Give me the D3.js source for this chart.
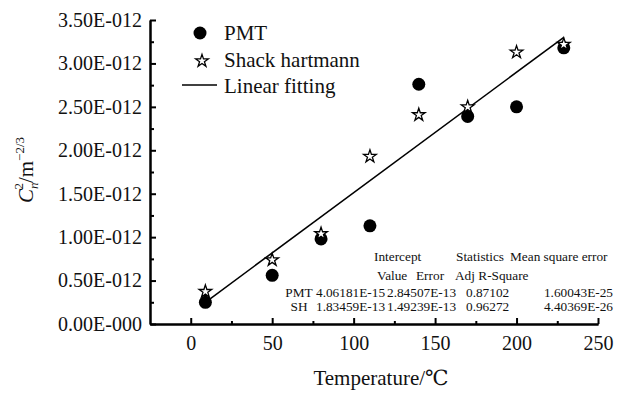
<!DOCTYPE html>
<html>
<head>
<meta charset="utf-8">
<script src="https://cdn.jsdelivr.net/npm/d3@7"></script>
<style>
  html, body { margin: 0; padding: 0; background: #fff; }
  svg text { font-family: "Liberation Serif", "Times New Roman", Times, Tinos, "DejaVu Serif", "Noto Serif", serif; }
</style>
</head>
<body>
<svg id="chart" width="629" height="394"></svg>
<script>
// Temperature (°C) of each measurement
const temperatures = [9, 50, 80, 110, 140, 170, 200, 229];
// Cn² values (m^-2/3) from the two instruments
const pmtValues = [0.25e-12, 0.56e-12, 0.98e-12, 1.13e-12, 2.76e-12, 2.39e-12, 2.50e-12, 3.18e-12];
const shackValues = [0.385e-12, 0.75e-12, 1.05e-12, 1.94e-12, 2.42e-12, 2.51e-12, 3.14e-12, 3.23e-12];
// Linear fit endpoints
const fitTemps = [9, 229];
const fitValues = [0.25e-12, 3.30e-12];

const xTicks = [0, 50, 100, 150, 200, 250];
const yTicks = [0, 0.5e-12, 1.0e-12, 1.5e-12, 2.0e-12, 2.5e-12, 3.0e-12, 3.5e-12];

const legendLabels = ["PMT", "Shack hartmann", "Linear fitting"];

// Fit statistics table
const statsHeader1 = ["Intercept", "Statistics", "Mean square error"];
const statsHeader2 = ["Value", "Error", "Adj R-Square"];
const statsRowNames = ["PMT", "SH"];
const statsValue = ["4.06181E-15", "1.83459E-13"];
const statsError = ["2.84507E-13", "1.49239E-13"];
const statsAdjR2 = ["0.87102", "0.96272"];
const statsMSE = ["1.60043E-25", "4.40369E-26"];

const svg = d3.select("#chart");

const x = d3.scaleLinear().domain([-25, 250]).range([150, 598]);
const y = d3.scaleLinear().domain([0, 3.5e-12]).range([324, 20]);

const fmtY = v => v === 0 ? "0.00E-000" : (v / 1e-12).toFixed(2) + "E-012";

// Minor ticks (no labels)
const xMinor = d3.range(-25, 250, 25).filter(v => !xTicks.includes(v) && v > -25);
const yMinor = d3.range(0.25e-12, 3.5e-12, 0.5e-12);

const axisStyle = g => {
  g.attr("font-family", null);
  g.select(".domain").attr("stroke", "#000").attr("stroke-width", 2);
  g.selectAll(".tick line").attr("stroke", "#000").attr("stroke-width", 2);
  g.selectAll(".tick text").attr("fill", "#111").attr("font-size", 20);
};

svg.append("g")
  .attr("transform", "translate(0,324)")
  .call(d3.axisBottom(x).tickValues(xMinor).tickSize(-3).tickFormat("").tickSizeOuter(0))
  .call(axisStyle);
svg.append("g")
  .attr("transform", "translate(0,324)")
  .call(d3.axisBottom(x).tickValues(xTicks).tickSize(-6).tickPadding(12).tickSizeOuter(0))
  .call(axisStyle);

svg.append("g")
  .attr("transform", "translate(150,0)")
  .call(d3.axisLeft(y).tickValues(yMinor).tickSize(-4).tickFormat("").tickSizeOuter(0))
  .call(axisStyle);
svg.append("g")
  .attr("transform", "translate(150,0)")
  .call(d3.axisLeft(y).tickValues(yTicks).tickSize(-6).tickPadding(8).tickFormat(fmtY).tickSizeOuter(0))
  .call(axisStyle);

// Axis titles
svg.append("text")
  .attr("x", 381).attr("y", 385)
  .attr("text-anchor", "middle")
  .attr("font-size", 21).attr("fill", "#111")
  .text("Temperature/℃");

const yTitle = svg.append("text")
  .attr("transform", "translate(33,170) rotate(-90)")
  .attr("text-anchor", "middle")
  .attr("font-size", 21).attr("fill", "#111");
yTitle.append("tspan").attr("font-style", "italic").text("C");
yTitle.append("tspan").attr("font-style", "italic").attr("font-size", 13).attr("dy", 5).text("n");
yTitle.append("tspan").attr("font-size", 13).attr("dx", -7).attr("dy", -15).text("2");
yTitle.append("tspan").attr("dy", 10).text("/m");
yTitle.append("tspan").attr("font-size", 13).attr("dy", -9).text("−2/3");

// Linear fit line
const line = d3.line().x(d => x(d[0])).y(d => y(d[1]));
svg.append("path")
  .datum(fitTemps.map((t, i) => [t, fitValues[i]]))
  .attr("d", line)
  .attr("fill", "none").attr("stroke", "#000").attr("stroke-width", 1.6);

// PMT points
svg.append("g").selectAll("circle")
  .data(temperatures.map((t, i) => [t, pmtValues[i]]))
  .join("circle")
  .attr("cx", d => x(d[0])).attr("cy", d => y(d[1]))
  .attr("r", 6.5).attr("fill", "#000");

// Shack-Hartmann points
const star = d3.symbol().type(d3.symbolStar).size(50);
svg.append("g").selectAll("path")
  .data(temperatures.map((t, i) => [t, shackValues[i]]))
  .join("path")
  .attr("transform", d => `translate(${x(d[0])},${y(d[1]) + 1})`)
  .attr("d", star)
  .attr("fill", "#fff").attr("stroke", "#000").attr("stroke-width", 1.3);

// Legend
const legend = svg.append("g");
legend.append("circle").attr("cx", 200).attr("cy", 33).attr("r", 6.5).attr("fill", "#000");
legend.append("path").attr("transform", "translate(202,61)").attr("d", star)
  .attr("fill", "#fff").attr("stroke", "#000").attr("stroke-width", 1.3);
legend.append("line").attr("x1", 182).attr("x2", 217).attr("y1", 85).attr("y2", 85)
  .attr("stroke", "#000").attr("stroke-width", 1.6);
legendLabels.forEach((lab, i) => {
  legend.append("text")
    .attr("x", 224).attr("y", 40 + i * 26.5)
    .attr("font-size", 21).attr("fill", "#111")
    .text(lab);
});

// Statistics table
const stats = svg.append("g").attr("font-size", 13.3).attr("fill", "#111");
const h1x = [374, 456, 510];
statsHeader1.forEach((t, i) => stats.append("text").attr("x", h1x[i]).attr("y", 261).text(t));
const h2x = [377, 416, 455];
statsHeader2.forEach((t, i) => stats.append("text").attr("x", h2x[i]).attr("y", 280).text(t));
const rowY = [296.5, 310.5];
statsRowNames.forEach((name, i) => {
  stats.append("text").attr("x", 299).attr("y", rowY[i]).attr("text-anchor", "middle").text(name);
  stats.append("text").attr("x", 316).attr("y", rowY[i]).text(statsValue[i]);
  stats.append("text").attr("x", 387).attr("y", rowY[i]).text(statsError[i]);
  stats.append("text").attr("x", 466).attr("y", rowY[i]).text(statsAdjR2[i]);
  stats.append("text").attr("x", 613).attr("y", rowY[i]).attr("text-anchor", "end").text(statsMSE[i]);
});
</script>
</body>
</html>
